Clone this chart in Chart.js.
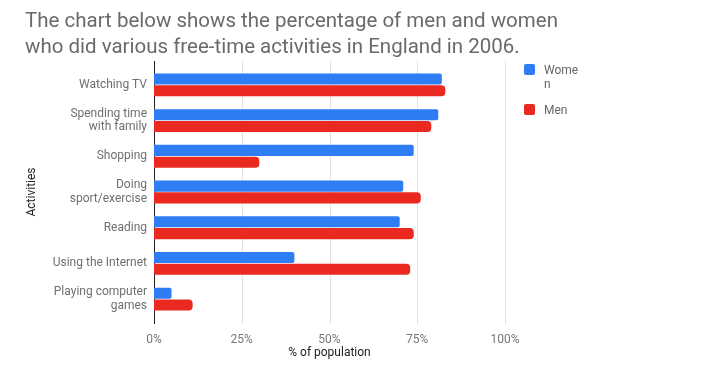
<!DOCTYPE html>
<html>
<head>
<meta charset="utf-8">
<script src="https://cdn.jsdelivr.net/npm/chart.js@4.4.1/dist/chart.umd.min.js"></script>
<style>
  html, body { margin: 0; padding: 0; background: #fff; }
  #wrap { position: relative; width: 714px; height: 371px; font-family: Roboto, "Noto Sans", sans-serif; }
  #title { position: absolute; left: 25px; top: 7px; font-size: 20.5px; line-height: 26px; color: #6a6a6a; white-space: nowrap; }
  #legend { position: absolute; left: 524px; top: 63px; font-size: 12px; color: #666; }
  .item { position: relative; padding-left: 20px; margin-bottom: 12px; line-height: 14px; }
  .item .box { position: absolute; left: 0; top: 1px; width: 11px; height: 11px; border-radius: 2px; }
  .item .txt { display: block; width: 37px; word-break: break-all; }
</style>
</head>
<body>
<div id="wrap">
  <canvas id="chart" width="714" height="371"></canvas>
  <div id="title">The chart below shows the percentage of men and women<br>who did various free-time activities in England in 2006.</div>
  <div id="legend"></div>
</div>
<script>
// activities (multi-line labels as arrays)
const activities = [
  'Watching TV',
  ['Spending time', 'with family'],
  'Shopping',
  ['Doing', 'sport/exercise'],
  'Reading',
  'Using the Internet',
  ['Playing computer', 'games']
];

// % of population
const women = [82, 81, 74, 71, 70, 40, 5];
const men = [83, 79, 30, 76, 74, 73, 11];

const xTicks = [0, 25, 50, 75, 100];

const seriesNames = ['Women', 'Men'];
const seriesColors = ['#2f7df4', '#ea2a20'];

// axis line + grid that run a bit past the plot, like the original
const axisLines = {
  id: 'axisLines',
  beforeDatasetsDraw(chart) {
    const ctx = chart.ctx;
    const area = chart.chartArea;
    const x = chart.scales.x;
    ctx.save();
    ctx.lineWidth = 1;
    ctx.strokeStyle = '#e6e1e1';
    for (let v of xTicks) {
      if (v === 0) continue;
      let px = Math.round(x.getPixelForValue(v)) + 0.5;
      ctx.beginPath();
      ctx.moveTo(px, area.top - 6);
      ctx.lineTo(px, area.bottom + 7);
      ctx.stroke();
    }
    ctx.strokeStyle = '#222';
    let px0 = Math.round(x.getPixelForValue(0)) + 0.5;
    ctx.beginPath();
    ctx.moveTo(px0, area.top - 6);
    ctx.lineTo(px0, area.bottom + 7);
    ctx.stroke();
    ctx.restore();
  }
};

const data = {
  labels: activities,
  datasets: [
    {
      label: seriesNames[0],
      data: women,
      backgroundColor: seriesColors[0],
      borderRadius: 2,
      borderSkipped: 'start'
    },
    {
      label: seriesNames[1],
      data: men,
      backgroundColor: seriesColors[1],
      borderRadius: 4,
      borderSkipped: 'start'
    }
  ]
};

const config = {
  type: 'bar',
  data: data,
  options: {
    indexAxis: 'y',
    responsive: false,
    animation: false,
    layout: { padding: { top: 67, right: 209, bottom: 0, left: 0 } },
    categoryPercentage: 0.66,
    barPercentage: 0.94,
    plugins: {
      legend: { display: false },
      tooltip: { enabled: false }
    },
    scales: {
      x: {
        min: 0,
        max: 100,
        afterBuildTicks: (scale) => { scale.ticks = xTicks.map(v => ({ value: v })); },
        afterFit: (scale) => { scale.height = 54; },
        grid: { display: false, drawTicks: false },
        border: { display: false },
        ticks: {
          padding: 16,
          color: '#777',
          font: { family: 'Roboto', size: 12 },
          callback: (v) => v + '%'
        },
        title: {
          display: true,
          text: '% of population',
          color: '#222',
          font: { family: 'Roboto', size: 12 },
          padding: { top: 0, bottom: 11 }
        }
      },
      y: {
        afterFit: (scale) => { scale.width = 154; },
        grid: { display: false, drawTicks: false },
        border: { display: false },
        ticks: {
          padding: 7,
          color: '#6f6f6f',
          font: { family: 'Roboto', size: 12, lineHeight: 1.15 }
        },
        title: {
          display: true,
          text: 'Activities',
          color: '#222',
          font: { family: 'Roboto', size: 12 },
          padding: { top: 25, bottom: 0 }
        }
      }
    }
  },
  plugins: [axisLines]
};

const chart = new Chart(document.getElementById('chart'), config);

// legend
const legend = document.getElementById('legend');
seriesNames.forEach((name, i) => {
  let item = document.createElement('div');
  item.className = 'item';
  item.innerHTML = '<span class="box" style="background:' + seriesColors[i] + '"></span><span class="txt">' + name + '</span>';
  legend.appendChild(item);
});
</script>
</body>
</html>
